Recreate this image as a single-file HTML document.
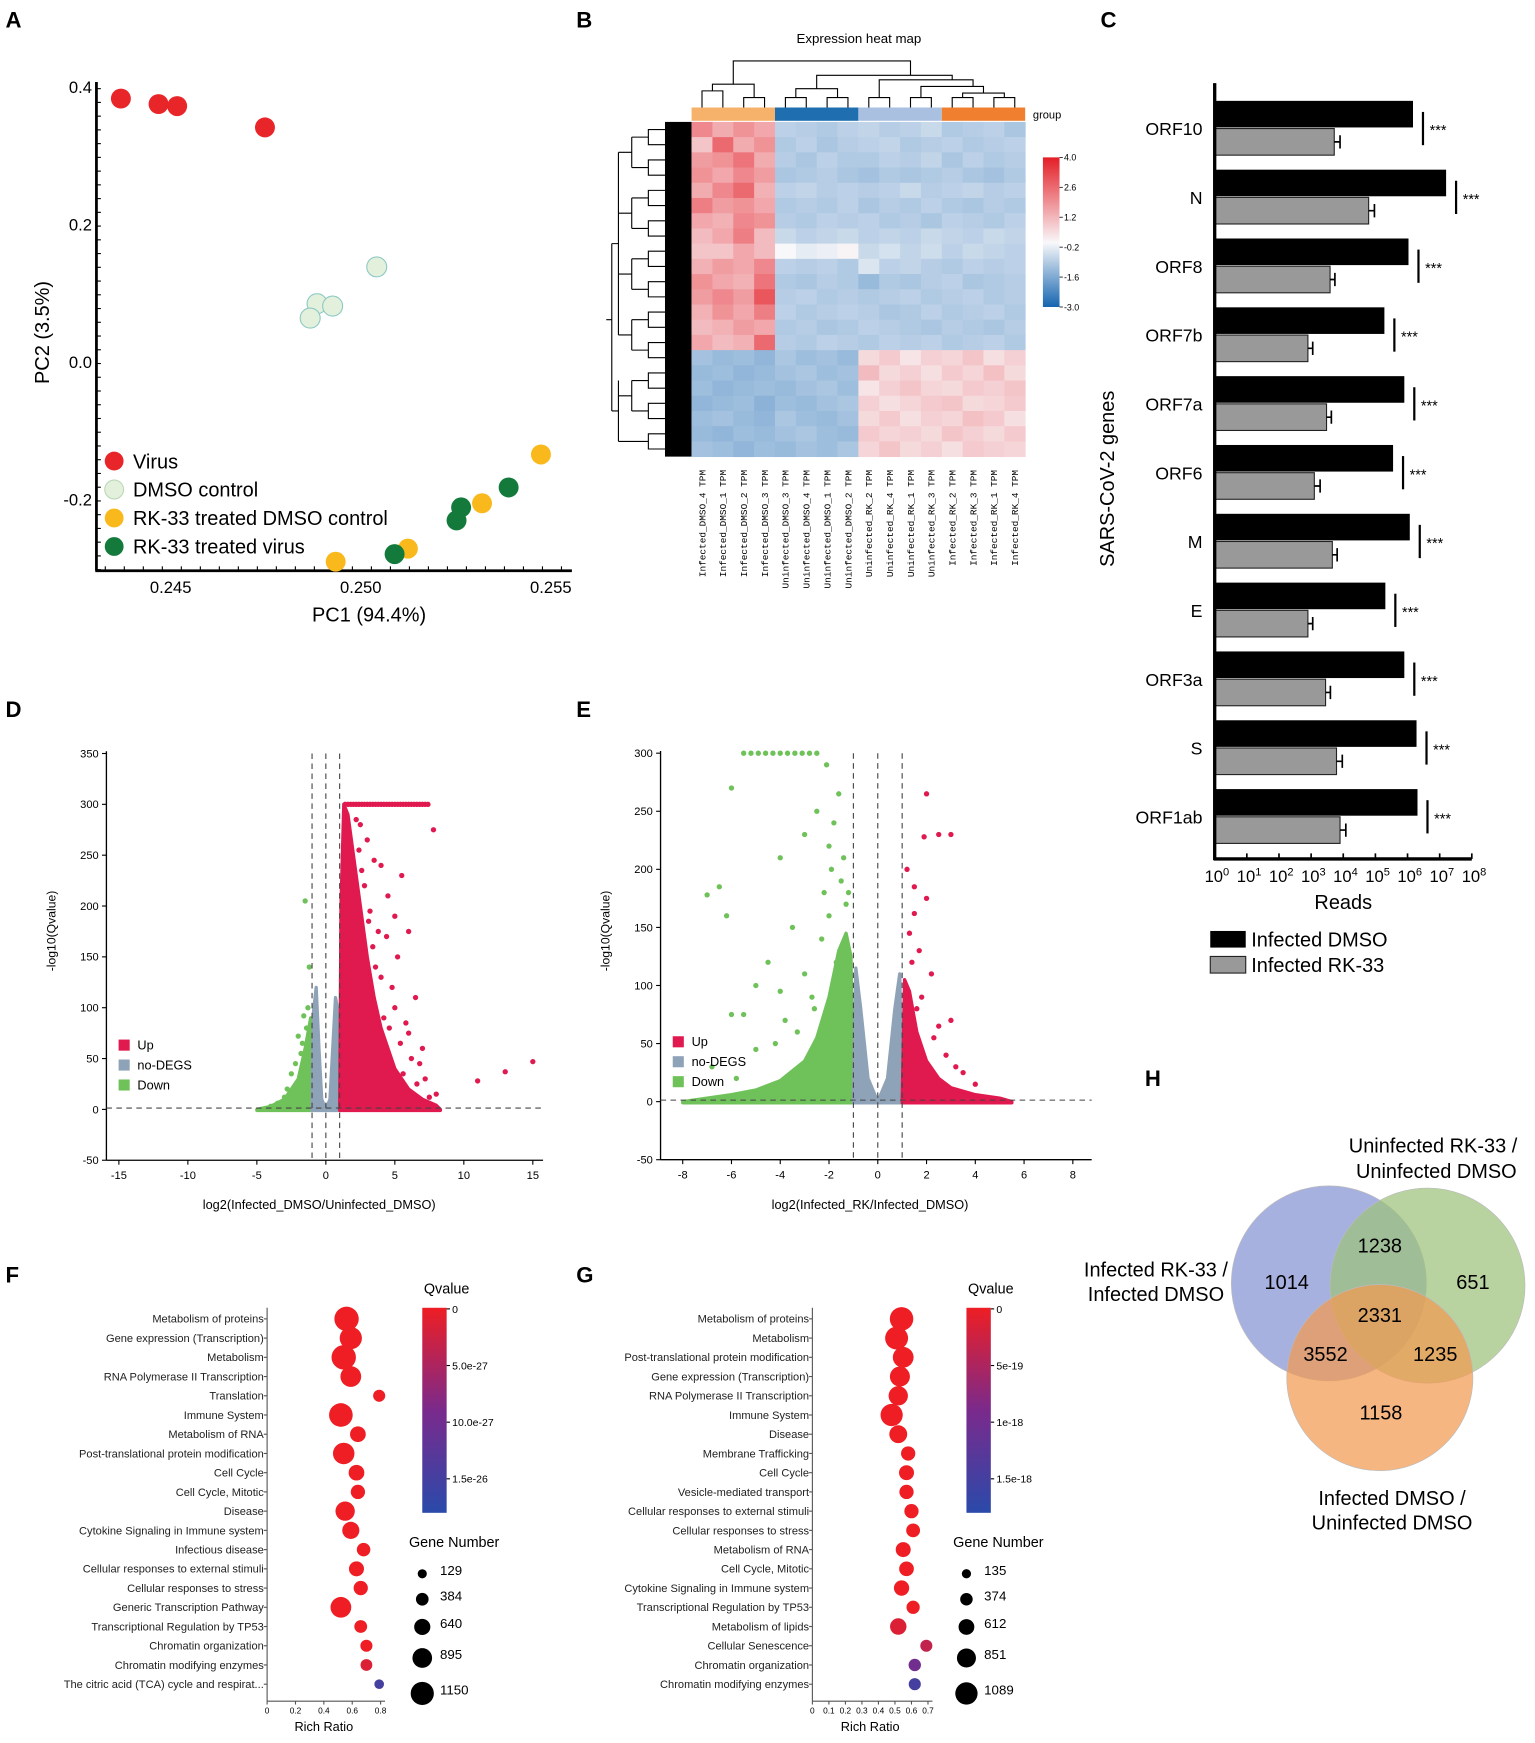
<!DOCTYPE html>
<html><head><meta charset="utf-8"><title>Figure</title>
<style>
html,body{margin:0;padding:0;background:#fff;}
svg{display:block;font-family:"Liberation Sans",Arial,sans-serif;}
</style></head>
<body>
<svg id="fig" xmlns="http://www.w3.org/2000/svg" width="1535" height="1743" viewBox="0 0 1385 1572.7">
<defs>
<linearGradient id="hmGrad" x1="0" y1="0" x2="0" y2="1">
<stop offset="0" stop-color="#e41e26"/><stop offset="0.57" stop-color="#f8f8fa"/><stop offset="1" stop-color="#1565b0"/>
</linearGradient>
<linearGradient id="qGrad" x1="0" y1="0" x2="0" y2="1">
<stop offset="0" stop-color="#ee1e24"/><stop offset="0.5" stop-color="#7a2a8c"/><stop offset="1" stop-color="#2a4aaa"/>
</linearGradient>
</defs>
<g id="A"></g>
<g id="B"></g>
<g id="C"></g>
<g id="D"></g>
<g id="E"></g>
<g id="F"></g>
<g id="G"></g>
<g id="H"></g>
</svg>
<script>
// ---------- Panel A data ----------
const pcaGroups=["Virus","DMSO control","RK-33 treated DMSO control","RK-33 treated virus"];
const pcaColors=["#e8262a","#e3f1dc","#f9b91c","#137a3c"];
const pcaX=[[0.24369,0.24468,0.24517,0.24748],[0.25042,0.24885,0.24926,0.24867],[0.25474,0.25319,0.25124,0.24934],[0.25389,0.25264,0.25252,0.25089]];
const pcaY=[[0.384,0.376,0.373,0.342],[0.139,0.0855,0.082,0.0645],[-0.134,-0.205,-0.271,-0.29],[-0.182,-0.211,-0.230,-0.279]];
const pcaXTicks=[0.245,0.250,0.255];
const pcaYTicks=[0.4,0.2,0.0,-0.2];
// ---------- Panel B data ----------
const hmCols=["Infected_DMSO_4","Infected_DMSO_1","Infected_DMSO_2","Infected_DMSO_3","Uninfected_DMSO_3","Uninfected_DMSO_4","Uninfected_DMSO_1","Uninfected_DMSO_2","Uninfected_RK_2","Uninfected_RK_4","Uninfected_RK_1","Uninfected_RK_3","Infected_RK_2","Infected_RK_3","Infected_RK_1","Infected_RK_4"];
const hmScaleTicks=[4.0,2.6,1.2,-0.2,-1.6,-3.0];
const hmValues=[
[2.2,1.5,2.0,1.6,-1.0,-1.1,-1.2,-1.0,-0.9,-1.1,-1.0,-0.8,-1.2,-1.1,-1.0,-1.3],
[1.0,2.8,1.5,2.0,-1.2,-1.0,-1.3,-1.1,-1.0,-0.9,-1.2,-1.1,-1.0,-1.2,-1.1,-1.0],
[1.8,2.0,2.6,1.5,-1.1,-1.3,-1.0,-1.2,-1.2,-1.0,-1.1,-0.9,-1.3,-1.0,-1.2,-1.1],
[2.0,1.6,2.2,1.8,-1.3,-1.2,-1.1,-1.3,-1.4,-1.2,-1.3,-1.2,-1.1,-1.3,-1.4,-1.2],
[1.5,2.2,2.8,1.4,-1.0,-0.9,-1.1,-1.0,-1.1,-1.0,-0.8,-1.1,-1.0,-0.9,-1.1,-1.0],
[2.4,1.8,2.0,1.6,-1.2,-1.1,-1.2,-1.0,-1.3,-1.1,-1.2,-1.0,-1.2,-1.3,-1.1,-1.2],
[1.6,1.4,2.2,2.0,-1.1,-1.2,-1.0,-1.1,-1.0,-1.2,-1.1,-1.3,-1.0,-1.1,-1.2,-1.0],
[1.2,1.6,2.4,1.2,-0.8,-1.0,-0.9,-0.8,-1.0,-0.9,-1.0,-0.8,-0.9,-1.0,-0.8,-0.9],
[1.0,1.0,1.6,1.2,0.0,-0.3,-0.2,0.1,-0.8,-0.6,-0.9,-0.7,-1.0,-0.8,-0.9,-1.0],
[1.4,1.8,1.6,2.2,-1.0,-1.1,-1.0,-1.2,-0.5,-1.0,-0.9,-1.1,-1.2,-1.0,-1.1,-1.0],
[2.0,1.6,1.4,2.6,-1.2,-1.3,-1.1,-1.2,-1.6,-1.2,-1.3,-1.1,-1.0,-1.3,-1.2,-1.1],
[1.8,2.2,1.8,3.2,-1.1,-1.0,-1.2,-1.1,-1.2,-1.1,-1.0,-1.2,-1.1,-1.0,-1.2,-1.1],
[1.4,2.0,1.6,2.4,-1.0,-1.2,-1.1,-1.0,-1.1,-1.3,-1.2,-1.0,-1.2,-1.1,-1.0,-1.2],
[1.2,1.4,1.8,1.6,-1.2,-1.1,-1.3,-1.2,-1.0,-1.1,-1.2,-1.3,-1.1,-1.2,-1.3,-1.1],
[1.6,1.2,1.4,2.8,-1.1,-1.2,-1.0,-1.1,-1.2,-1.0,-1.1,-1.0,-1.2,-1.1,-1.0,-1.2],
[-1.4,-1.6,-1.5,-1.7,-1.3,-1.5,-1.4,-1.6,0.6,0.9,0.4,0.8,0.7,1.0,0.5,0.8],
[-1.6,-1.5,-1.7,-1.6,-1.4,-1.3,-1.5,-1.4,1.2,0.6,0.8,0.5,0.9,0.7,1.1,0.6],
[-1.5,-1.7,-1.6,-1.5,-1.6,-1.4,-1.3,-1.5,0.4,0.8,1.0,0.7,0.6,0.9,0.8,1.0],
[-1.7,-1.6,-1.5,-1.8,-1.5,-1.6,-1.4,-1.3,0.8,0.5,0.7,0.9,1.0,0.6,0.7,0.9],
[-1.5,-1.4,-1.6,-1.7,-1.3,-1.5,-1.6,-1.4,0.6,0.9,0.5,0.8,0.7,1.1,0.9,0.5],
[-1.6,-1.7,-1.5,-1.6,-1.4,-1.3,-1.5,-1.6,0.9,0.7,0.8,0.6,1.0,0.8,0.6,0.9],
[-1.4,-1.5,-1.7,-1.5,-1.6,-1.4,-1.5,-1.3,0.7,1.0,0.6,0.8,0.5,0.9,0.8,0.7]];
const hmGroupColors=["#f6b26b","#1f6fb0","#a9c0e0","#f08030"];
// ---------- Panel C data ----------
const cGenes=["ORF10","N","ORF8","ORF7b","ORF7a","ORF6","M","E","ORF3a","S","ORF1ab"];
const cDmsoLog=[6.17,7.2,6.03,5.28,5.9,5.55,6.07,5.31,5.9,6.28,6.31];
const cRkLog=[3.72,4.79,3.59,2.9,3.48,3.1,3.66,2.9,3.45,3.79,3.9];
const cErrLog=[0.18,0.18,0.15,0.15,0.15,0.18,0.15,0.15,0.15,0.18,0.18];
const cTicks=[0,1,2,3,4,5,6,7,8];
// ---------- Panel D data ----------
const dXTicks=[-15,-10,-5,0,5,10,15];
const dYTicks=[350,300,250,200,150,100,50,0,-50];
const dUpEnvX=[1,1.1,1.3,1.6,2,2.5,3,3.5,4,5,6,7,8,8.3];
const dUpEnvY=[0,200,300,290,250,200,150,110,80,40,20,10,4,0];
const dGrayEnvX=[-1,-0.9,-0.7,-0.5,-0.3,0,0.3,0.5,0.7,0.9,1];
const dGrayEnvY=[0,95,120,60,10,0,10,60,110,95,0];
const dDownEnvX=[-5,-4,-3,-2,-1.5,-1.1,-1];
const dDownEnvY=[0,3,10,30,60,90,0];
const dCapX=[1.4,1.6,1.8,2,2.2,2.4,2.6,2.8,3,3.2,3.4,3.6,3.8,4,4.2,4.4,4.6,4.8,5,5.2,5.4,5.6,5.8,6,6.2,6.4,6.6,6.8,7,7.2,7.4];
const dCapY=[300,300,300,300,300,300,300,300,300,300,300,300,300,300,300,300,300,300,300,300,300,300,300,300,300,300,300,300,300,300,300];
const dUpX=[2.5,3,4,5.5,6,7.8,8,11,13,15,5,4.5,3.5,6.5,5,4,7,6,5.2,3.8,2.2,2.8,3.2,4.8,5.8,6.8,7.2,4.2,3.4,2.6,3.6,4.4,5.4,6.2,2.4,3.1,4.6,5.6,6.6,7.5];
const dUpY=[280,265,240,230,175,275,15,28,37,47,190,210,245,110,100,130,60,75,150,175,285,220,195,120,85,45,30,90,160,235,140,170,65,50,255,185,80,35,25,12];
const dDownX=[-1.5,-1.2,-2,-1.6,-2.5,-3,-4,-1.8,-2.2,-1.3,-1.4,-2.8,-3.5,-1.7];
const dDownY=[205,140,72,92,35,12,3,55,45,100,80,20,6,65];
// ---------- Panel E data ----------
const eXTicks=[-8,-6,-4,-2,0,2,4,6,8];
const eYTicks=[300,250,200,150,100,50,0,-50];
const eDownEnvX=[-8,-7,-6,-5,-4,-3,-2.5,-2,-1.6,-1.3,-1.1,-1];
const eDownEnvY=[0,3,6,10,18,35,55,90,130,145,125,0];
const eGrayEnvX=[-1,-0.9,-0.7,-0.4,0,0.4,0.7,0.9,1];
const eGrayEnvY=[0,115,80,20,0,20,80,110,0];
const eUpEnvX=[1,1.1,1.3,1.6,2,2.5,3,4,5,5.5];
const eUpEnvY=[0,105,95,60,35,20,12,6,3,0];
const eDownX=[-5.5,-5.2,-4.9,-4.6,-4.3,-4,-3.7,-3.4,-3.1,-2.8,-2.5,-6,-7,-6.5,-6.2,-4,-3,-2.5,-2,-1.5,-3.5,-4.5,-5,-5.5,-6,-4,-3,-2.2,-1.8,-1.3,-2.7,-3.3,-5,-6.8,-2,-1.6,-1.9,-2.3,-1.4,-1.7,-2.6,-3.8,-4.2,-5.8,-1.2,-2.1];
const eDownY=[300,300,300,300,300,300,300,300,300,300,300,270,178,185,160,210,230,250,220,190,150,120,100,75,75,95,110,180,240,170,90,60,45,30,160,265,200,140,210,120,80,70,50,20,180,290];
const eUpX=[2,2.5,3,1.9,1.5,2,1.5,1.3,1.7,2.2,3,2.5,1.2,1.8,2.8,3.5,4,1.4,2.3,1.6,3.2];
const eUpY=[265,230,230,228,185,175,162,145,130,110,70,65,200,90,40,25,15,120,55,80,30];
// ---------- Panel F data ----------
const fTerms=["Metabolism of proteins","Gene expression (Transcription)","Metabolism","RNA Polymerase II Transcription","Translation","Immune System","Metabolism of RNA","Post-translational protein modification","Cell Cycle","Cell Cycle, Mitotic","Disease","Cytokine Signaling in Immune system","Infectious disease","Cellular responses to external stimuli","Cellular responses to stress","Generic Transcription Pathway","Transcriptional Regulation by TP53","Chromatin organization","Chromatin modifying enzymes","The citric acid (TCA) cycle and respirat..."];
const fRatio=[0.56,0.59,0.54,0.59,0.79,0.52,0.64,0.54,0.63,0.64,0.55,0.59,0.68,0.63,0.66,0.52,0.66,0.70,0.70,0.79];
const fCount=[1150,1000,1150,900,300,1100,550,950,550,450,800,650,400,500,450,900,350,300,280,129];
const fQ=[0,0,0,0,0,0,0,0,0,0,0,0,0,0,0,0,0,0,1.5e-27,1.5e-26];
const fQTicks=["0","5.0e-27","10.0e-27","1.5e-26"];
const fQTickVals=[0,5e-27,10e-27,1.5e-26];
const fLegendCounts=[129,384,640,895,1150];
const fXTicks=[0,0.2,0.4,0.6,0.8];
// ---------- Panel G data ----------
const gTerms=["Metabolism of proteins","Metabolism","Post-translational protein modification","Gene expression (Transcription)","RNA Polymerase II Transcription","Immune System","Disease","Membrane Trafficking","Cell Cycle","Vesicle-mediated transport","Cellular responses to external stimuli","Cellular responses to stress","Metabolism of RNA","Cell Cycle, Mitotic","Cytokine Signaling in Immune system","Transcriptional Regulation by TP53","Metabolism of lipids","Cellular Senescence","Chromatin organization","Chromatin modifying enzymes"];
const gRatio=[0.54,0.51,0.55,0.53,0.52,0.48,0.52,0.58,0.57,0.57,0.60,0.61,0.55,0.57,0.54,0.61,0.52,0.69,0.62,0.62];
const gCount=[1089,1050,900,850,800,1000,700,450,500,450,450,420,500,480,520,380,600,300,320,300];
const gQ=[0,0,0,0,0,0,0,0,0,0,0,0,0,0,0,0,1.5e-19,3.5e-19,1.0e-18,1.5e-18];
const gQTicks=["0","5e-19","1e-18","1.5e-18"];
const gQTickVals=[0,5e-19,1e-18,1.5e-18];
const gLegendCounts=[135,374,612,851,1089];
const gXTicks=[0,0.1,0.2,0.3,0.4,0.5,0.6,0.7];
// ---------- Panel H data ----------
const vennCounts=[1014,1238,651,2331,3552,1235,1158];
const vennRegions=["only-infected-rk33","rk33-and-uninfected-rk33","only-uninfected-rk33","all-three","rk33-and-infected-dmso","uninfected-rk33-and-infected-dmso","only-infected-dmso"];

const NS="http://www.w3.org/2000/svg";
function mk(tag,attrs,parent){const e=document.createElementNS(NS,tag);for(const k in attrs)e.setAttribute(k,attrs[k]);(parent||document.getElementById('fig')).appendChild(e);return e;}
function txt(s,attrs,parent){const e=mk('text',attrs,parent);e.textContent=s;return e;}
function hexLerp(a,b,t){return a.map((v,i)=>Math.round(v+(b[i]-v)*t));}
function rgb(c){return 'rgb('+c.join(',')+')';}

// ===== Panel A =====
(function(){
const g=document.getElementById('A');
const ax=v=>154+(v-0.245)*34300, ay=v=>327-v*620;
let e;
e=txt('A',{x:5,y:25,'font-size':20,'font-weight':'bold'},g);


e=mk('line',{x1:87,y1:74,x2:87,y2:515,stroke:'#000','stroke-width':2.5},g);


e=mk('line',{x1:86,y1:515,x2:516,y2:515,stroke:'#000','stroke-width':2.5},g);


for(let y=80;y<515;y+=12.4){mk('line',{x1:87,y1:y,x2:91,y2:y,stroke:'#000','stroke-width':1},g);}
for(let x=95;x<515;x+=17.15){mk('line',{x1:x,y1:515,x2:x,y2:511,stroke:'#000','stroke-width':1},g);}
pcaYTicks.forEach(v=>{e=txt(v.toFixed(1),{x:83,y:ay(v)+5,'font-size':15,'text-anchor':'end'},g);

});
pcaXTicks.forEach(v=>{e=txt(v.toFixed(3),{x:ax(v),y:535,'font-size':15,'text-anchor':'middle'},g);

});
e=txt('PC2 (3.5%)',{x:0,y:0,'font-size':18,'text-anchor':'middle',transform:'translate(44,300) rotate(-90)'},g);


e=txt('PC1 (94.4%)',{x:333,y:561,'font-size':18,'text-anchor':'middle'},g);


pcaX.forEach((xs,gi)=>xs.forEach((xv,i)=>{e=mk('circle',{cx:ax(xv),cy:ay(pcaY[gi][i]),r:9,fill:pcaColors[gi],stroke:gi==1?'#8cc9c4':'none','stroke-width':1},g);

}));
pcaGroups.forEach((n,i)=>{const y=416+i*25.7;
e=mk('circle',{cx:103,cy:y,r:8.5,fill:pcaColors[i],stroke:i==1?'#bcd8b8':'none'},g);


e=txt(n,{x:120,y:y+6.5,'font-size':18},g);

});
})();

// ===== Panel B =====
(function(){
const g=document.getElementById('B');let e;
e=txt('B',{x:520,y:25,'font-size':20,'font-weight':'bold'},g);


e=txt('Expression heat map',{x:775,y:39,'font-size':12,'text-anchor':'middle'},g);


const x0=624,x1=925,y0=110,y1=412;
const cw=(x1-x0)/hmCols.length, rh=(y1-y0)/hmValues.length;
const cx=i=>x0+(i+0.5)*cw;
hmGroupColors.forEach((c,i)=>{e=mk('rect',{x:x0+i*4*cw,y:97,width:4*cw,height:12,fill:c},g);

});
e=txt('group',{x:932,y:107,'font-size':10},g);


const dd='M'+cx(0)+' 97V82H'+cx(1)+'V97 M'+cx(2)+' 97V88H'+cx(3)+'V97 M'+cx(2.5)+' 88V76H'+(cx(0.5))+'V82 M'+cx(1.5)+' 76V55H'+cx(10)+'V68 '+
'M'+cx(4)+' 97V88H'+cx(5)+'V97 M'+cx(6)+' 97V88H'+cx(7)+'V97 M'+cx(4.5)+' 88V80H'+cx(6.5)+'V88 M'+cx(5.5)+' 80V68H'+cx(12)+'V72 '+
'M'+cx(8)+' 97V88H'+cx(9)+'V97 M'+cx(10)+' 97V88H'+cx(11)+'V97 M'+cx(8.5)+' 88V72H'+cx(13)+'V78 M'+cx(10.5)+' 88V84 '+
'M'+cx(12)+' 97V88H'+cx(13)+'V97 M'+cx(14)+' 97V88H'+cx(15)+'V97 M'+cx(12.5)+' 88V84H'+cx(14.5)+'V88 M'+cx(10.5)+' 84V78H'+cx(13.5)+'V84';
e=mk('path',{d:dd,fill:'none',stroke:'#000','stroke-width':1},g);


e=mk('rect',{x:600,y:y0,width:24,height:y1-y0,fill:'#000'},g);


let p='';
for(let k=0;k<hmValues.length;k+=2){const ya=y0+(k+0.5)*rh, yb=y0+(k+1.5)*rh, ym=(ya+yb)/2;
p+='M600 '+ya+'H585V'+yb+'H600 M585 '+ym+'H570 ';}
for(let k=0;k<hmValues.length;k+=4){const ya=y0+(k+1)*rh, yb=y0+Math.min(k+3,hmValues.length-1)*rh;p+='M570 '+ya+'V'+yb+'M570 '+((ya+yb)/2)+'H558 ';}
p+='M558 '+(y0+2*rh)+'V'+(y0+14*rh)+'M558 '+(y0+8*rh)+'H552 M558 '+(y0+17*rh)+'V'+(y0+21*rh)+'M558 '+(y0+19*rh)+'H552 M552 '+(y0+8*rh)+'V'+(y0+19*rh)+'M552 '+(y0+13*rh)+'H547';
e=mk('path',{d:p,fill:'none',stroke:'#000','stroke-width':1},g);


const blue=[21,101,176],white=[248,248,250],red=[228,30,38];
const col=v=>v<0?rgb(hexLerp(white,blue,Math.min(1,-v/3.8))):rgb(hexLerp(white,red,Math.min(1,v/4.3)));
hmValues.forEach((row,r)=>row.forEach((v,c)=>{e=mk('rect',{x:x0+c*cw,y:y0+r*rh,width:cw+0.4,height:rh+0.4,fill:col(v)},g);

}));
hmCols.forEach((n,i)=>{e=txt(n+'  TPM',{x:0,y:0,'font-size':8.5,'font-family':'Liberation Mono,monospace','text-anchor':'end',transform:'translate('+(cx(i)+3)+',424) rotate(-90)'},g);

});
e=mk('rect',{x:941,y:142,width:15,height:135,fill:'url(#hmGrad)'},g);


hmScaleTicks.forEach((v,i)=>{const y=142+i*27;mk('line',{x1:956,y1:y,x2:959,y2:y,stroke:'#000','stroke-width':0.7},g);
e=txt(v.toFixed(1),{x:960,y:y+3,'font-size':8},g);

});
})();

// ===== Panel C =====
(function(){
const g=document.getElementById('C');let e;
const cx=v=>1096+v*29, rowY=i=>116+i*62.1;
e=txt('C',{x:993,y:25,'font-size':20,'font-weight':'bold'},g);


cGenes.forEach((n,i)=>{const yc=rowY(i);
e=mk('rect',{x:cx(0),y:yc-25,width:cx(cDmsoLog[i])-cx(0),height:24,fill:'#000'},g);


e=mk('rect',{x:cx(0),y:yc,width:cx(cRkLog[i])-cx(0),height:24,fill:'#999',stroke:'#222','stroke-width':1},g);


const xe=cx(cRkLog[i]+cErrLog[i]);
e=mk('path',{d:'M'+cx(cRkLog[i])+' '+(yc+12)+'H'+xe+'M'+xe+' '+(yc+6)+'V'+(yc+18),stroke:'#000','stroke-width':1.5,fill:'none'},g);


const sx=cx(cDmsoLog[i])+9;
e=mk('line',{x1:sx,y1:yc-15,x2:sx,y2:yc+15,stroke:'#000','stroke-width':2},g);


e=txt('***',{x:sx+6,y:yc+6,'font-size':13},g);


e=txt(n,{x:1085,y:yc+6,'font-size':16,'text-anchor':'end'},g);

});
e=mk('line',{x1:1096,y1:75,x2:1096,y2:776,stroke:'#000','stroke-width':3},g);


e=mk('line',{x1:1095,y1:775,x2:cx(8),y2:775,stroke:'#000','stroke-width':3},g);


cTicks.forEach(v=>{mk('line',{x1:cx(v),y1:775,x2:cx(v),y2:770,stroke:'#000','stroke-width':1.5},g);
e=mk('text',{x:cx(v)+2,y:796,'font-size':15,'text-anchor':'middle'},g);


e.innerHTML='10<tspan dy="-6" font-size="10">'+v+'</tspan>';});
e=txt('Reads',{x:1212,y:820,'font-size':18,'text-anchor':'middle'},g);


e=txt('SARS-CoV-2 genes',{x:0,y:0,'font-size':18,'text-anchor':'middle',transform:'translate(1005,432) rotate(-90)'},g);


e=mk('rect',{x:1092,y:840,width:32,height:15,fill:'#000'},g);


e=txt('Infected DMSO',{x:1129,y:854,'font-size':18},g);


e=mk('rect',{x:1092,y:863,width:32,height:15,fill:'#999',stroke:'#222'},g);


e=txt('Infected RK-33',{x:1129,y:877,'font-size':18},g);


})();

// ===== Volcano helper =====
function volcano(id,label,lx,xs,ys,yAxisX,xAxisEnd,xTicks,yTicks,xTitle,xTitleX,data){
const g=document.getElementById(id);let e;
e=txt(label,{x:lx,y:647,'font-size':20,'font-weight':'bold'},g);


const yb=ys(-50);
e=mk('line',{x1:yAxisX,y1:ys(yTicks[0])-2,x2:yAxisX,y2:yb,stroke:'#000','stroke-width':1.2},g);


e=mk('line',{x1:yAxisX,y1:yb,x2:xAxisEnd,y2:yb,stroke:'#000','stroke-width':1.2},g);


yTicks.forEach(v=>{mk('line',{x1:yAxisX-4,y1:ys(v),x2:yAxisX,y2:ys(v),stroke:'#000'},g);
e=txt(String(v),{x:yAxisX-7,y:ys(v)+3.5,'font-size':10,'text-anchor':'end'},g);

});
xTicks.forEach(v=>{mk('line',{x1:xs(v),y1:yb,x2:xs(v),y2:yb+4,stroke:'#000'},g);
e=txt(String(v),{x:xs(v),y:yb+17,'font-size':10,'text-anchor':'middle'},g);

});
e=txt('-log10(Qvalue)',{x:0,y:0,'font-size':11,'text-anchor':'middle',transform:'translate('+(yAxisX-46)+',840) rotate(-90)'},g);


e=txt(xTitle,{x:xTitleX,y:1091,'font-size':11.5,'text-anchor':'middle'},g);


const env=(X,Y,c,name)=>{let d='M'+xs(X[0])+' '+ys(-1);X.forEach((x,i)=>{d+='L'+xs(x)+' '+ys(Y[i]);});d+='L'+xs(X[X.length-1])+' '+ys(-1)+'Z';
e=mk('path',{d:d,fill:c,stroke:c,'stroke-width':3,'stroke-linejoin':'round'},g);

};
env(data.downX,data.downY,'#6fc25a','down-density');
env(data.grayX,data.grayY,'#8fa3b8','no-deg-density');
env(data.upX,data.upY,'#e0194f','up-density');
const pts=(X,Y,c,name)=>X.forEach((x,i)=>{e=mk('circle',{cx:xs(x),cy:ys(Y[i]),r:2.4,fill:c},g);

});
pts(data.pDownX,data.pDownY,'#6fc25a','point-down');
pts(data.pUpX,data.pUpY,'#e0194f','point-up');
[-1,0,1].forEach(v=>{e=mk('line',{x1:xs(v),y1:ys(yTicks[0]),x2:xs(v),y2:yb,stroke:'#444','stroke-dasharray':'5,4','stroke-width':1},g);

});
e=mk('line',{x1:yAxisX,y1:ys(1.3),x2:xAxisEnd,y2:ys(1.3),stroke:'#444','stroke-dasharray':'5,4','stroke-width':1},g);


[['Up','#e0194f'],['no-DEGS','#8fa3b8'],['Down','#6fc25a']].forEach((l,i)=>{const y=data.legY+i*18;
e=mk('rect',{x:yAxisX+11,y:y-5,width:10,height:10,fill:l[1]},g);


e=txt(l[0],{x:yAxisX+28,y:y+4,'font-size':11.5},g);

});
}
volcano('D','D',5,v=>294+v*12.45,v=>1001-v*0.9175,96,490,dXTicks,dYTicks,'log2(Infected_DMSO/Uninfected_DMSO)',288,
{downX:dDownEnvX,downY:dDownEnvY,grayX:dGrayEnvX,grayY:dGrayEnvY,upX:dUpEnvX,upY:dUpEnvY,pDownX:dDownX,pDownY:dDownY,pUpX:dUpX.concat(dCapX),pUpY:dUpY.concat(dCapY),legY:943});
volcano('E','E',520,v=>792+v*22,v=>994-v*1.048,596,985,eXTicks,eYTicks,'log2(Infected_RK/Infected_DMSO)',785,
{downX:eDownEnvX,downY:eDownEnvY,grayX:eGrayEnvX,grayY:eGrayEnvY,upX:eUpEnvX,upY:eUpEnvY,pDownX:eDownX,pDownY:eDownY,pUpX:eUpX,pUpY:eUpY,legY:940});

// ===== Dot plot helper =====
function dotplot(id,label,lx,axisX,scale,xTicks,terms,ratio,count,q,qmax,qTicks,qTickVals,legCounts,cbX){
const g=document.getElementById(id);let e;
e=txt(label,{x:lx,y:1157,'font-size':20,'font-weight':'bold'},g);


const xs=v=>axisX+v*scale, ys=i=>1190+i*17.35, rr=n=>3.5+n/1150*7.5;
const c0=[238,30,36],c1=[122,42,140],c2=[42,74,170];
const qc=v=>{const t=Math.min(1,v/qmax);return t<0.5?rgb(hexLerp(c0,c1,t*2)):rgb(hexLerp(c1,c2,(t-0.5)*2));};
e=mk('line',{x1:axisX,y1:1180,x2:axisX,y2:1535,stroke:'#555'},g);


e=mk('line',{x1:axisX,y1:1535,x2:xs(xTicks[xTicks.length-1])+4,y2:1535,stroke:'#555'},g);


xTicks.forEach(v=>{mk('line',{x1:xs(v),y1:1535,x2:xs(v),y2:1538,stroke:'#555'},g);
e=txt(v===0?'0':v.toFixed(1),{x:xs(v),y:1546,'font-size':7.5,'text-anchor':'middle'},g);

});
e=txt('Rich Ratio',{x:xs(xTicks[xTicks.length-1])/2+axisX/2,y:1562,'font-size':11.5,'text-anchor':'middle'},g);


terms.forEach((t,i)=>{mk('line',{x1:axisX-3,y1:ys(i),x2:axisX,y2:ys(i),stroke:'#555'},g);
e=txt(t,{x:axisX-3,y:ys(i)+3.5,'font-size':10,'text-anchor':'end',fill:'#222'},g);


e=mk('circle',{cx:xs(ratio[i]),cy:ys(i),r:rr(count[i]),fill:qc(q[i])},g);

});
e=txt('Qvalue',{x:cbX+22,y:1167,'font-size':13,'text-anchor':'middle'},g);


e=mk('rect',{x:cbX,y:1180,width:22,height:185,fill:'url(#qGrad)'},g);


qTicks.forEach((s,i)=>{const y=1181+qTickVals[i]/qmax*184;
mk('line',{x1:cbX+22,y1:y,x2:cbX+25,y2:y,stroke:'#000'},g);
e=txt(s,{x:cbX+27,y:y+3.5,'font-size':9.5},g);

});
e=txt('Gene Number',{x:cbX-12,y:1396,'font-size':13},g);


const ly=[1420,1443,1468,1496,1528];
legCounts.forEach((n,i)=>{e=mk('circle',{cx:cbX,cy:ly[i],r:rr(n)*0.95,fill:'#000'},g);


e=txt(String(n),{x:cbX+16,y:ly[i]+1,'font-size':12},g);

});
}
dotplot('F','F',5,241,128,fXTicks,fTerms,fRatio,fCount,fQ,1.8e-26,fQTicks,fQTickVals,fLegendCounts,381);
dotplot('G','G',520,733,149,gXTicks,gTerms,gRatio,gCount,gQ,1.8e-18,gQTicks,gQTickVals,gLegendCounts,872);

// ===== Panel H =====
(function(){
const g=document.getElementById('H');let e;
e=txt('H',{x:1033,y:980,'font-size':20,'font-weight':'bold'},g);


[[1199,1158,88,'#8593d3','circle-infected-rk33'],[1288,1160,88,'#9cc27a','circle-uninfected-rk33'],[1245,1243,84,'#f39a52','circle-infected-dmso']].forEach(c=>{
e=mk('circle',{cx:c[0],cy:c[1],r:c[2],fill:c[3],'fill-opacity':0.72,stroke:'#bbb','stroke-width':0.6},g);

});
const pos=[[1161,1157],[1245,1124],[1329,1157],[1245,1187],[1196,1222],[1295,1222],[1246,1275]];
vennCounts.forEach((n,i)=>{e=txt(String(n),{x:pos[i][0],y:pos[i][1]+6,'font-size':18,'text-anchor':'middle'},g);

});
[['Uninfected RK-33 /',1293,1040],['Uninfected DMSO',1296,1063],['Infected RK-33 /',1043,1152],['Infected DMSO',1043,1174],['Infected DMSO /',1256,1358],['Uninfected DMSO',1256,1380]].forEach(l=>{
e=txt(l[0],{x:l[1],y:l[2],'font-size':18,'text-anchor':'middle'},g);

});
})();
</script>
</body></html>
